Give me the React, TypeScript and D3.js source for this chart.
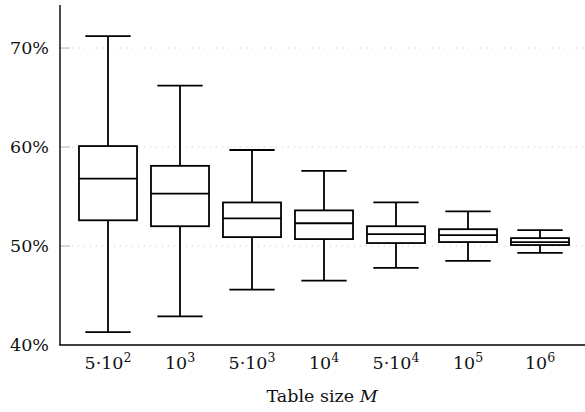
import React from "react";
import * as d3 from "d3";

const categories = ["5e2", "1e3", "5e3", "1e4", "5e4", "1e5", "1e6"];
const tickBase = ["5·10", "10", "5·10", "10", "5·10", "10", "10"];
const tickExp = ["2", "3", "3", "4", "4", "5", "6"];
const whiskerLow = [41.3, 42.9, 45.6, 46.5, 47.8, 48.5, 49.3];
const q1 = [52.6, 52.0, 50.9, 50.7, 50.3, 50.4, 50.1];
const median = [56.8, 55.3, 52.8, 52.3, 51.2, 51.1, 50.4];
const q3 = [60.1, 58.1, 54.4, 53.6, 52.0, 51.7, 50.8];
const whiskerHigh = [71.2, 66.2, 59.7, 57.6, 54.4, 53.5, 51.6];
const yTicks = [40, 50, 60, 70];

const W = 585;
const H = 412;
const left = 60;
const bottom = 345;
const top = 5;

export default function App() {
  const x = d3
    .scaleBand<string>()
    .domain(categories)
    .range([72, 576])
    .paddingInner(0.194)
    .paddingOuter(0.097);
  const y = d3.scaleLinear().domain([40, 74.35]).range([bottom, top]);
  const bw = x.bandwidth();
  const capW = bw * 0.78;
  const font = "'DejaVu Serif', 'Liberation Serif', serif";

  return (
    <svg
      width={W}
      height={H}
      style={{ position: "absolute", left: 0, top: 0, background: "#fff" }}
      fontFamily={font}
    >
      {yTicks.map((t) => (
        <g key={t}>
          {t > 40 && (
            <>
              <line x1={left} x2={left + 10} y1={y(t)} y2={y(t)} stroke="#b0b0b0" strokeWidth={1} />
              <line
                x1={left + 12}
                x2={W}
                y1={y(t)}
                y2={y(t)}
                stroke="#c8c8c8"
                strokeWidth={1}
                strokeDasharray="1 5"
              />
            </>
          )}
          <text x={49} y={y(t)} dy="0.36em" textAnchor="end" fontSize={17.5} fill="#111">
            {t}%
          </text>
        </g>
      ))}
      {categories.map((c, i) => {
        const cx = x(c)! + bw / 2;
        return (
          <g key={c} stroke="#000" strokeWidth={1.8} fill="none">
            <line x1={cx} x2={cx} y1={y(whiskerHigh[i])} y2={y(q3[i])} />
            <line x1={cx} x2={cx} y1={y(q1[i])} y2={y(whiskerLow[i])} />
            <line x1={cx - capW / 2} x2={cx + capW / 2} y1={y(whiskerHigh[i])} y2={y(whiskerHigh[i])} />
            <line x1={cx - capW / 2} x2={cx + capW / 2} y1={y(whiskerLow[i])} y2={y(whiskerLow[i])} />
            <rect x={x(c)!} y={y(q3[i])} width={bw} height={y(q1[i]) - y(q3[i])} fill="#fff" />
            <line x1={x(c)!} x2={x(c)! + bw} y1={y(median[i])} y2={y(median[i])} />
          </g>
        );
      })}
      <line x1={left} x2={left} y1={top} y2={bottom} stroke="#000" strokeWidth={1.4} />
      <line x1={left - 0.7} x2={W} y1={bottom} y2={bottom} stroke="#000" strokeWidth={1.4} />
      {categories.map((c, i) => {
        const cx = x(c)! + bw / 2;
        return (
          <text key={c} x={cx} y={369} textAnchor="middle" fontSize={17.5} fill="#111">
            {tickBase[i]}
            <tspan fontSize={12.5} dy={-7}>
              {tickExp[i]}
            </tspan>
          </text>
        );
      })}
      <text x={322} y={402} textAnchor="middle" fontSize={17.5} fill="#111">
        Table size <tspan fontStyle="italic">M</tspan>
      </text>
    </svg>
  );
}
